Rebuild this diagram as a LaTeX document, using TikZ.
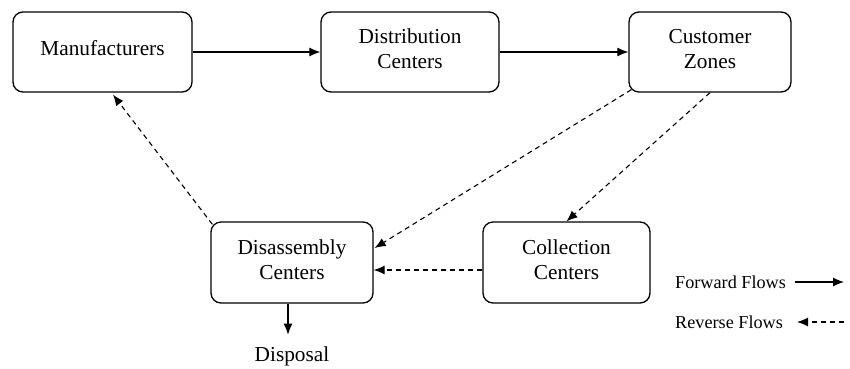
\documentclass[tikz,border=0pt]{standalone}
\usepackage{fontspec}
\setmainfont{Liberation Serif}
\usetikzlibrary{arrows.meta,calc}
\begin{document}
\begin{tikzpicture}[x=1pt,y=-1pt,
  box/.style={draw, line width=1.3pt, rounded corners=10pt, minimum height=80pt, inner sep=0pt},
  lbl/.style={align=center, font=\fontsize{21.3}{25}\selectfont, inner sep=0pt},
  leg/.style={font=\fontsize{18.2}{21}\selectfont, inner sep=0pt, anchor=base west},
  fwd/.style={line width=1.1pt, -{Latex[length=11pt,width=9pt]}},
  rev/.style={line width=1.1pt, dash pattern=on 5pt off 4pt, -{Latex[length=11pt,width=9pt]}}]
\useasboundingbox (0,0) rectangle (850,368);
% boxes
\node[box, minimum width=179pt] (mf) at (102.5,52) {};
\node[box, minimum width=178pt] (dc) at (410,52) {};
\node[box, minimum width=162pt] (cz) at (710,52) {};
\node[box, minimum width=162pt, minimum height=81pt] (da) at (292,262.5) {};
\node[box, minimum width=167pt, minimum height=81pt] (cc) at (566.5,262.5) {};
% texts
\node[lbl] (mft) at (102.5,48) {Manufacturers};
\node[lbl] (dct) at (410,49) {Distribution\\Centers};
\node[lbl] (czt) at (710,49) {Customer\\Zones};
\node[lbl] (dat) at (292,259.5) {Disassembly\\Centers};
\node[lbl] (cct) at (566.5,259.5) {Collection\\Centers};
\node[lbl, anchor=base] (dp) at (292,361) {Disposal};
% forward flows
\draw[fwd] (mf.east) -- (dc.west);
\draw[fwd] (dc.east) -- (cz.west);
\draw[fwd] ($(da.south)+(-4,0)$) -- ($(da.south)+(-4,31)$);
% reverse flows
\draw[rev] ($(cz.south west)+(3,-3)$) -- ($(da.east)+(1,-14.5)$);
\draw[rev] (cz.south) -- (cc.north);
\draw[rev] ($(cc.west)+(0,7.5)$) -- ($(da.east)+(0,7.5)$);
\draw[rev] ($(da.north west)+(2,3)$) -- ($(mf.south)+(10.5,2)$);
% legend
\node[leg] (ff) at (675,288) {Forward Flows};
\node[leg] (rf) at (675,328) {Reverse Flows};
\coordinate (ffe) at (844,282);
\coordinate (rfe) at (797,322);
\draw[fwd] (795,282) -- (ffe);
\draw[rev] (844,322) -- (rfe);
\end{tikzpicture}
\end{document}
